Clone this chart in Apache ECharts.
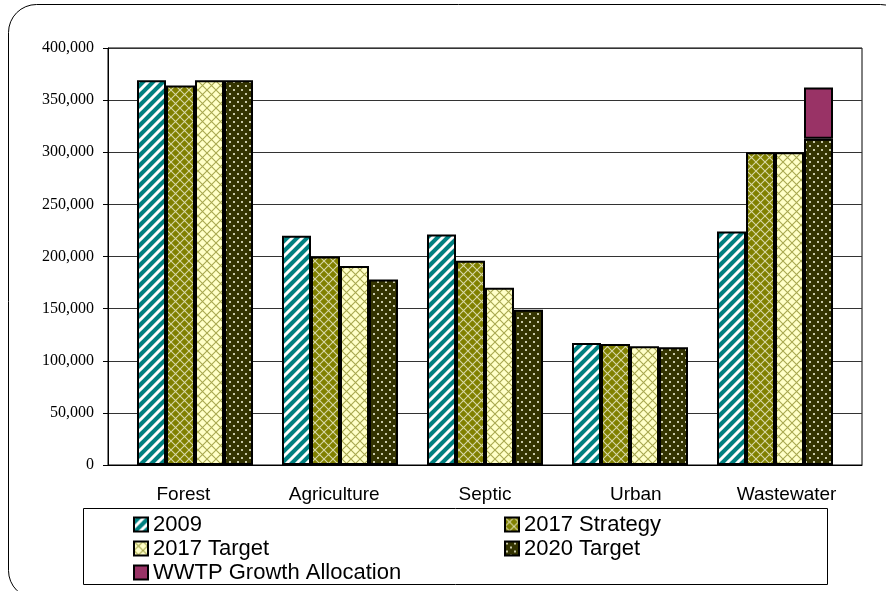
<!DOCTYPE html>
<html>
<head>
<meta charset="utf-8">
<script src="https://cdn.jsdelivr.net/npm/echarts@6/dist/echarts.min.js"></script>
<style>
html,body{margin:0;padding:0;background:#fff;}
#chart{width:886px;height:591px;}
</style>
</head>
<body>
<div id="chart"></div>
<script>
// ---- data ----
var categories = ['Forest', 'Agriculture', 'Septic', 'Urban', 'Wastewater'];
var values2009 = [369000, 220000, 221000, 117000, 224000];
var strategy2017 = [364000, 200000, 196000, 116000, 300000];
var target2017 = [369000, 191000, 170000, 114000, 300000];
var target2020 = [369000, 178000, 149000, 113000, 313000];
var wwtpGrowth = [null, null, null, null, 49000];
var yTicks = { min: 0, max: 400000, interval: 50000 };

// ---- patterns ----
function tile(size, draw) {
  var c = document.createElement('canvas');
  c.width = size; c.height = size;
  var g = c.getContext('2d');
  draw(g, size);
  return { image: c, repeat: 'repeat' };
}
var patStripes = tile(10, function (g, s) {
  g.fillStyle = '#008080'; g.fillRect(0, 0, s, s);
  g.strokeStyle = '#ffffff'; g.lineWidth = 3;
  g.beginPath();
  g.moveTo(-2, s + 2); g.lineTo(s + 2, -2);
  g.moveTo(-2, 2); g.lineTo(2, -2);
  g.moveTo(s - 2, s + 2); g.lineTo(s + 2, s - 2);
  g.stroke();
});
function lattice(bg, fg) {
  return tile(9, function (g, s) {
    g.fillStyle = bg; g.fillRect(0, 0, s, s);
    g.strokeStyle = fg; g.lineWidth = 1.1;
    g.beginPath();
    g.moveTo(0, 0); g.lineTo(s, s);
    g.moveTo(0, s); g.lineTo(s, 0);
    g.stroke();
  });
}
var patStrategy = lattice('#808000', '#d8d8a8');
var patTarget = lattice('#ffffc8', '#a8a850');
var patDots = tile(8, function (g, s) {
  g.fillStyle = '#333300'; g.fillRect(0, 0, s, s);
  g.fillStyle = '#c8c8a8';
  g.fillRect(1, 1, 2, 2);
  g.fillRect(5, 5, 2, 2);
});

var chart = echarts.init(document.getElementById('chart'));
var barBase = {
  type: 'bar', xAxisIndex: 1, yAxisIndex: 1,
  barWidth: 29, barGap: '0%'
};
function bar(name, data, stack, color) {
  return Object.assign({}, barBase, {
    name: name, data: data, stack: stack,
    itemStyle: { color: color, borderColor: '#000', borderWidth: 2 }
  });
}
var legendText = { fontFamily: 'Liberation Sans, Arial, sans-serif', fontSize: 22, color: '#000', lineHeight: 23 };
var legendBase = { orient: 'vertical', top: 513, padding: 0, height: 78, itemWidth: 14, itemHeight: 14, itemGap: 1,
  icon: 'rect', textStyle: legendText };
var option = {
  animation: false,
  backgroundColor: '#fff',
  graphic: [
    { type: 'rect', z: -10, shape: { x: 8.5, y: 4.5, width: 900, height: 594, r: 28 },
      style: { fill: 'none', stroke: '#000', lineWidth: 1 } },
    { type: 'rect', z: -10, shape: { x: 83.5, y: 508.5, width: 744, height: 76 },
      style: { fill: '#fff', stroke: '#000', lineWidth: 1 } }
  ],
  legend: [
    Object.assign({}, legendBase, { left: 133, data: ['2009', '2017 Target', 'WWTP Growth Allocation'] }),
    Object.assign({}, legendBase, { left: 504, data: ['2017 Strategy', '2020 Target'] })
  ],
  grid: [
    { left: 108, right: 24, top: 48, bottom: 126, show: true, borderColor: '#000', borderWidth: 1 },
    { left: 122.5, right: 38.5, top: 48, bottom: 126 }
  ],
  xAxis: [
    { type: 'category', gridIndex: 0, data: categories,
      axisLine: { lineStyle: { color: '#000', width: 1 } },
      axisTick: { show: false },
      axisLabel: { margin: 20, fontFamily: 'Liberation Sans, Arial, sans-serif', fontSize: 19, color: '#000' } },
    { type: 'category', gridIndex: 1, data: categories, show: false }
  ],
  yAxis: [
    { type: 'value', gridIndex: 0, min: yTicks.min, max: yTicks.max, interval: yTicks.interval,
      axisLine: { show: true, lineStyle: { color: '#000', width: 1 } },
      axisTick: { show: true, length: 5, lineStyle: { color: '#000' } },
      splitLine: { lineStyle: { color: '#333', width: 1 } },
      axisLabel: { margin: 14, fontFamily: 'Liberation Serif, Times New Roman, serif', fontSize: 16, color: '#000',
        formatter: function (v) { return v.toLocaleString('en-US'); } } },
    { type: 'value', gridIndex: 1, min: yTicks.min, max: yTicks.max, interval: yTicks.interval, show: false }
  ],
  series: [
    bar('2009', values2009, 's1', patStripes),
    bar('2017 Strategy', strategy2017, 's2', patStrategy),
    bar('2017 Target', target2017, 's3', patTarget),
    bar('2020 Target', target2020, 's4', patDots),
    bar('WWTP Growth Allocation', wwtpGrowth, 's4', '#993366')
  ]
};
chart.setOption(option);
</script>
</body>
</html>
